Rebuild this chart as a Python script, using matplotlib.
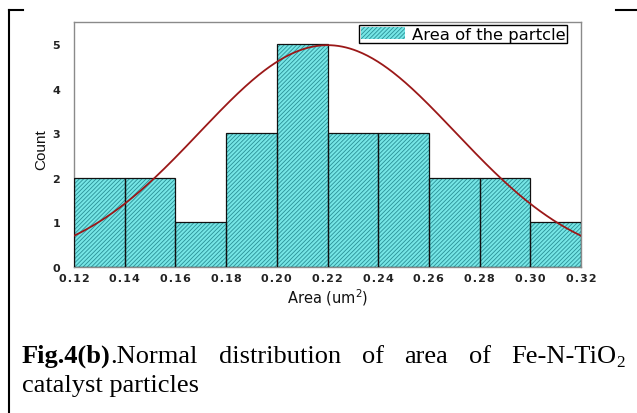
import numpy as np
import matplotlib
matplotlib.use("Agg")
import matplotlib.pyplot as plt
from matplotlib.lines import Line2D
from matplotlib.patches import Patch

# ---- data ----
bin_edges = [0.12, 0.14, 0.16, 0.18, 0.20, 0.22, 0.24, 0.26, 0.28, 0.30, 0.32]
counts = [2, 2, 1, 3, 5, 3, 3, 2, 2, 1]
xticks = [0.12, 0.14, 0.16, 0.18, 0.20, 0.22, 0.24, 0.26, 0.28, 0.30, 0.32]
xtick_labels = ["0.12", "0.14", "0.16", "0.18", "0.20", "0.22", "0.24", "0.26", "0.28", "0.30", "0.32"]
yticks = [0, 1, 2, 3, 4, 5]
ytick_labels = ["0", "1", "2", "3", "4", "5"]
fit_mean = 0.22
fit_sigma = 0.0505
fit_peak = 4.98
legend_label = "Area of the partcle"
caption_bold = "Fig.4(b)"
caption_words1 = [".Normal", "distribution", "of", "area", "of", "Fe-N-TiO"]
caption_line2 = "catalyst particles"

HAIR = "\u200a"

def spaced(s):
    return HAIR.join(list(s))

W, H = 637, 414
fig = plt.figure(figsize=(W / 100, H / 100), dpi=100)
fig.patch.set_facecolor("white")

def fx(x):
    return x / W

def fy(y):
    return 1 - y / H

plt.rcParams["hatch.linewidth"] = 0.6
FACE = "#76e6e6"
HATCHC = "#2a9096"

# axes
ax = fig.add_axes([fx(74), fy(268), (581 - 74) / W, (268 - 23) / H])
lefts = np.array(bin_edges[:-1])
widths = np.diff(bin_edges)
ax.bar(lefts, counts, width=widths, align="edge", facecolor=FACE,
       edgecolor=HATCHC, hatch="////////", linewidth=0, zorder=2)
ax.bar(lefts, counts, width=widths, align="edge", facecolor="none",
       edgecolor="#111111", linewidth=0.9, zorder=3)

xs = np.linspace(bin_edges[0], bin_edges[-1], 400)
ys = fit_peak * np.exp(-(xs - fit_mean) ** 2 / (2 * fit_sigma ** 2))
ax.plot(xs, ys, color="#9b1818", lw=1.3, zorder=4)

ax.set_xlim(bin_edges[0], bin_edges[-1])
ax.set_ylim(0, 5.5)
ax.set_xticks(xticks)
ax.set_yticks(yticks)
tick_font = {"family": "DejaVu Sans", "weight": "bold", "size": 8, "color": "#222222"}
ax.set_xticklabels([spaced(t) for t in xtick_labels], fontdict=tick_font)
ax.set_yticklabels(ytick_labels, fontdict=tick_font)
for s in ax.spines.values():
    s.set_color("#8a8a8a")
    s.set_linewidth(1.0)
ax.tick_params(axis="x", length=0, pad=4)
ax.tick_params(axis="y", length=0, pad=10)
ax.set_xlabel("Area (um$^2$)", fontsize=10.5, fontfamily="DejaVu Sans", labelpad=3, color="#111111")
ax.set_ylabel("Count", fontsize=11, family="Liberation Sans", color="#111111")
ax.yaxis.set_label_coords((48 - 74) / 507, (268 - 150) / 245)

handle = Patch(facecolor=FACE, edgecolor=HATCHC, hatch="////////", linewidth=0)
leg = ax.legend([handle], [legend_label], loc="upper right",
                bbox_to_anchor=((567 - 74) / 507, (268 - 26) / 245),
                borderaxespad=0, fancybox=False, framealpha=1, edgecolor="black",
                prop={"family": "DejaVu Sans", "size": 11.8},
                handlelength=2.7, handleheight=0.8, borderpad=0.1,
                handletextpad=0.4)
leg.get_frame().set_linewidth(1.0)

# frame lines
fig.add_artist(Line2D([fx(9), fx(9)], [fy(11), fy(414)], color="black", lw=1.5))
fig.add_artist(Line2D([fx(9), fx(23)], [fy(11), fy(11)], color="black", lw=1.5))
fig.add_artist(Line2D([fx(616), fx(637)], [fy(11), fy(11)], color="black", lw=1.5))

# caption, justified line 1
serif = ["Liberation Serif", "DejaVu Serif"]
fs = 19
renderer = fig.canvas.get_renderer()
x0, x1 = 22, 625
base1, base2 = 363, 392
t_bold = fig.text(fx(x0), fy(base1), caption_bold, fontsize=fs, fontweight="bold",
                  family=serif, va="baseline", ha="left")
wb = t_bold.get_window_extent(renderer).width
texts = []
widths_w = []
for w in caption_words1:
    t = fig.text(0, fy(base1), w, fontsize=fs, family=serif, va="baseline", ha="left")
    texts.append(t)
    widths_w.append(t.get_window_extent(renderer).width)
t_sub = fig.text(0, fy(base1 + 4), "2", fontsize=fs * 0.65, family=serif, va="baseline", ha="left")
wsub = t_sub.get_window_extent(renderer).width
total = wb + sum(widths_w) + wsub
gap = (x1 - x0 - total) / (len(caption_words1) - 1)
x = x0 + wb
for i, (t, w) in enumerate(zip(texts, widths_w)):
    t.set_x(fx(x))
    x += w
    if i < len(texts) - 1:
        x += gap
t_sub.set_x(fx(x))
fig.text(fx(x0), fy(base2), caption_line2, fontsize=fs, family=serif, va="baseline", ha="left")

fig.savefig("out.png", dpi=100)
